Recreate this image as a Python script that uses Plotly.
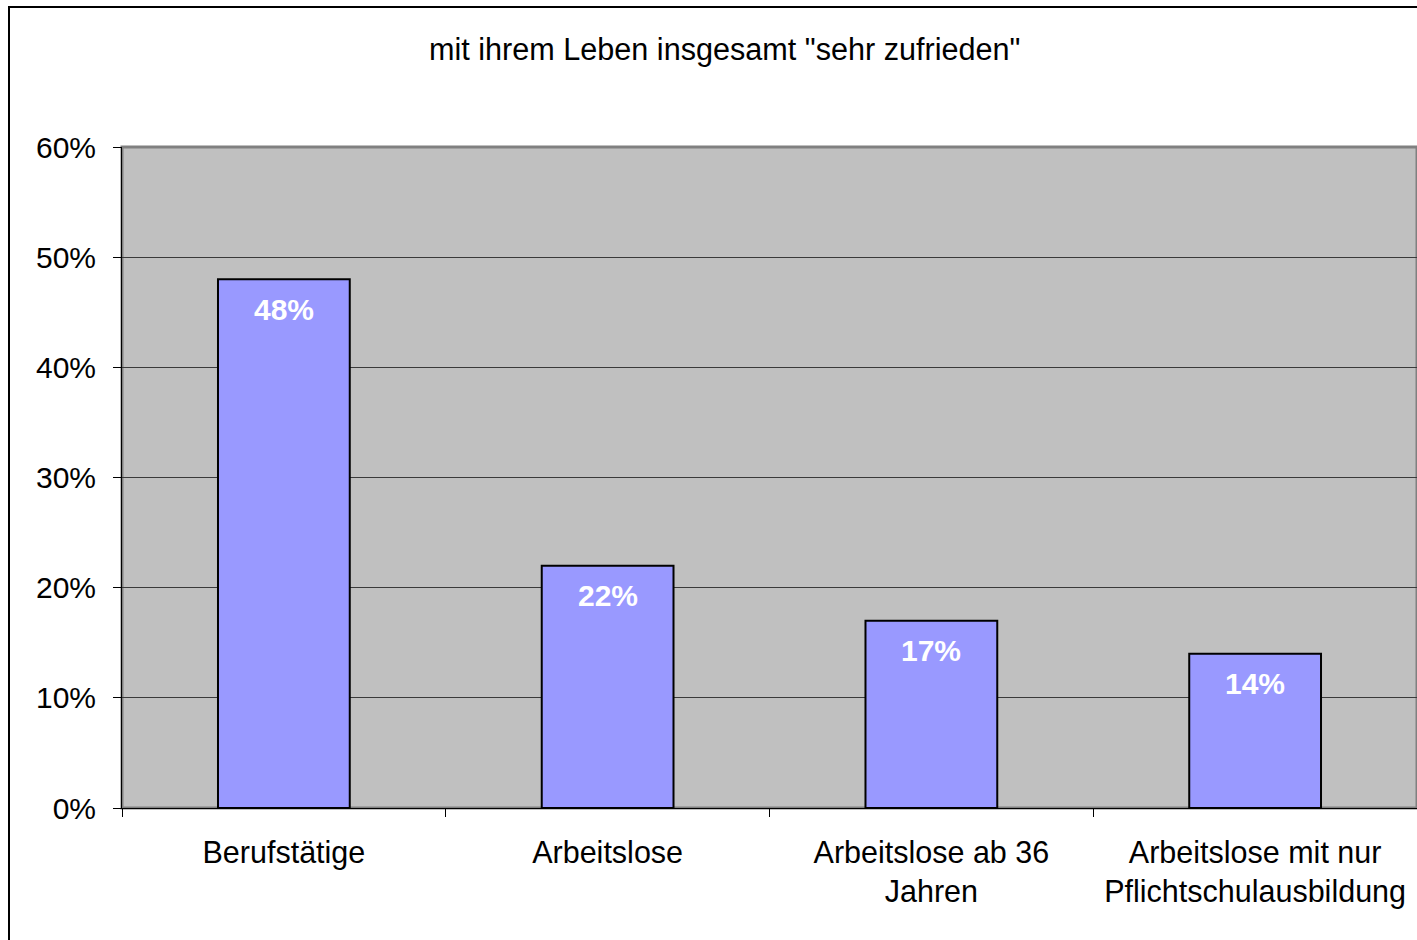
import plotly.graph_objects as go

categories = ["Berufstätige", "Arbeitslose", "Arbeitslose ab 36<br>Jahren",
              "Arbeitslose mit nur<br>Pflichtschulausbildung"]
values = [0.48, 0.22, 0.17, 0.14]
labels = ["48%", "22%", "17%", "14%"]
title_text = 'mit ihrem Leben insgesamt "sehr zufrieden"'

W, H = 1417, 940
L, R, T, B = 122, 0, 147, 132
pw, ph = W - L - R, H - T - B

def px_x(x):
    return (x - L) / pw

def px_y(y):
    return (H - B - y) / ph

FONT = "Liberation Sans, Arial, sans-serif"

fig = go.Figure()
fig.add_trace(go.Bar(
    x=categories, y=values, width=0.407,
    marker=dict(color="#9999FF", line=dict(color="#000000", width=2)),
    hoverinfo="skip",
))

for c, v, t in zip(categories, values, labels):
    fig.add_annotation(x=c, y=v, text="<b>%s</b>" % t, showarrow=False,
                       yanchor="middle", yshift=-30,
                       font=dict(family=FONT, size=30, color="white"))

fig.add_annotation(x=px_x(724), y=px_y(49), xref="paper", yref="paper",
                   text=title_text, showarrow=False,
                   font=dict(family=FONT, size=30.6, color="black"),
                   xanchor="center", yanchor="middle")

# plot area border (gray) and outer chart border
fig.add_shape(type="rect", xref="paper", yref="paper", x0=0, x1=1, y0=0, y1=1,
              line=dict(color="#808080", width=3), layer="below")
fig.add_shape(type="rect", xref="paper", yref="paper",
              x0=px_x(9), x1=px_x(1460), y0=px_y(990), y1=px_y(7),
              line=dict(color="#000000", width=2))

fig.update_layout(
    width=W, height=H,
    margin=dict(l=L, r=R, t=T, b=B),
    paper_bgcolor="white", plot_bgcolor="#C0C0C0",
    showlegend=False, bargap=0.6,
    font=dict(family=FONT, color="black"),
)
fig.update_xaxes(
    type="category", range=[-0.5, 3.5], tickson="boundaries",
    ticks="outside", ticklen=8, tickcolor="black", tickwidth=1,
    showline=True, linecolor="black", linewidth=1,
    showgrid=False, tickfont=dict(family=FONT, size=30.5), ticklabelstandoff=17,
)
fig.update_yaxes(
    range=[0, 0.6], dtick=0.1, tickformat=".0%",
    ticks="outside", ticklen=8, tickcolor="black", tickwidth=1,
    showline=True, linecolor="black", linewidth=1,
    showgrid=True, gridcolor="#3a3a3a", gridwidth=1,
    zeroline=False, tickfont=dict(family=FONT, size=30), ticklabelstandoff=11,
)

fig.write_html("out.html", config={"displayModeBar": False},
               post_script="document.body.style.margin='0';")
